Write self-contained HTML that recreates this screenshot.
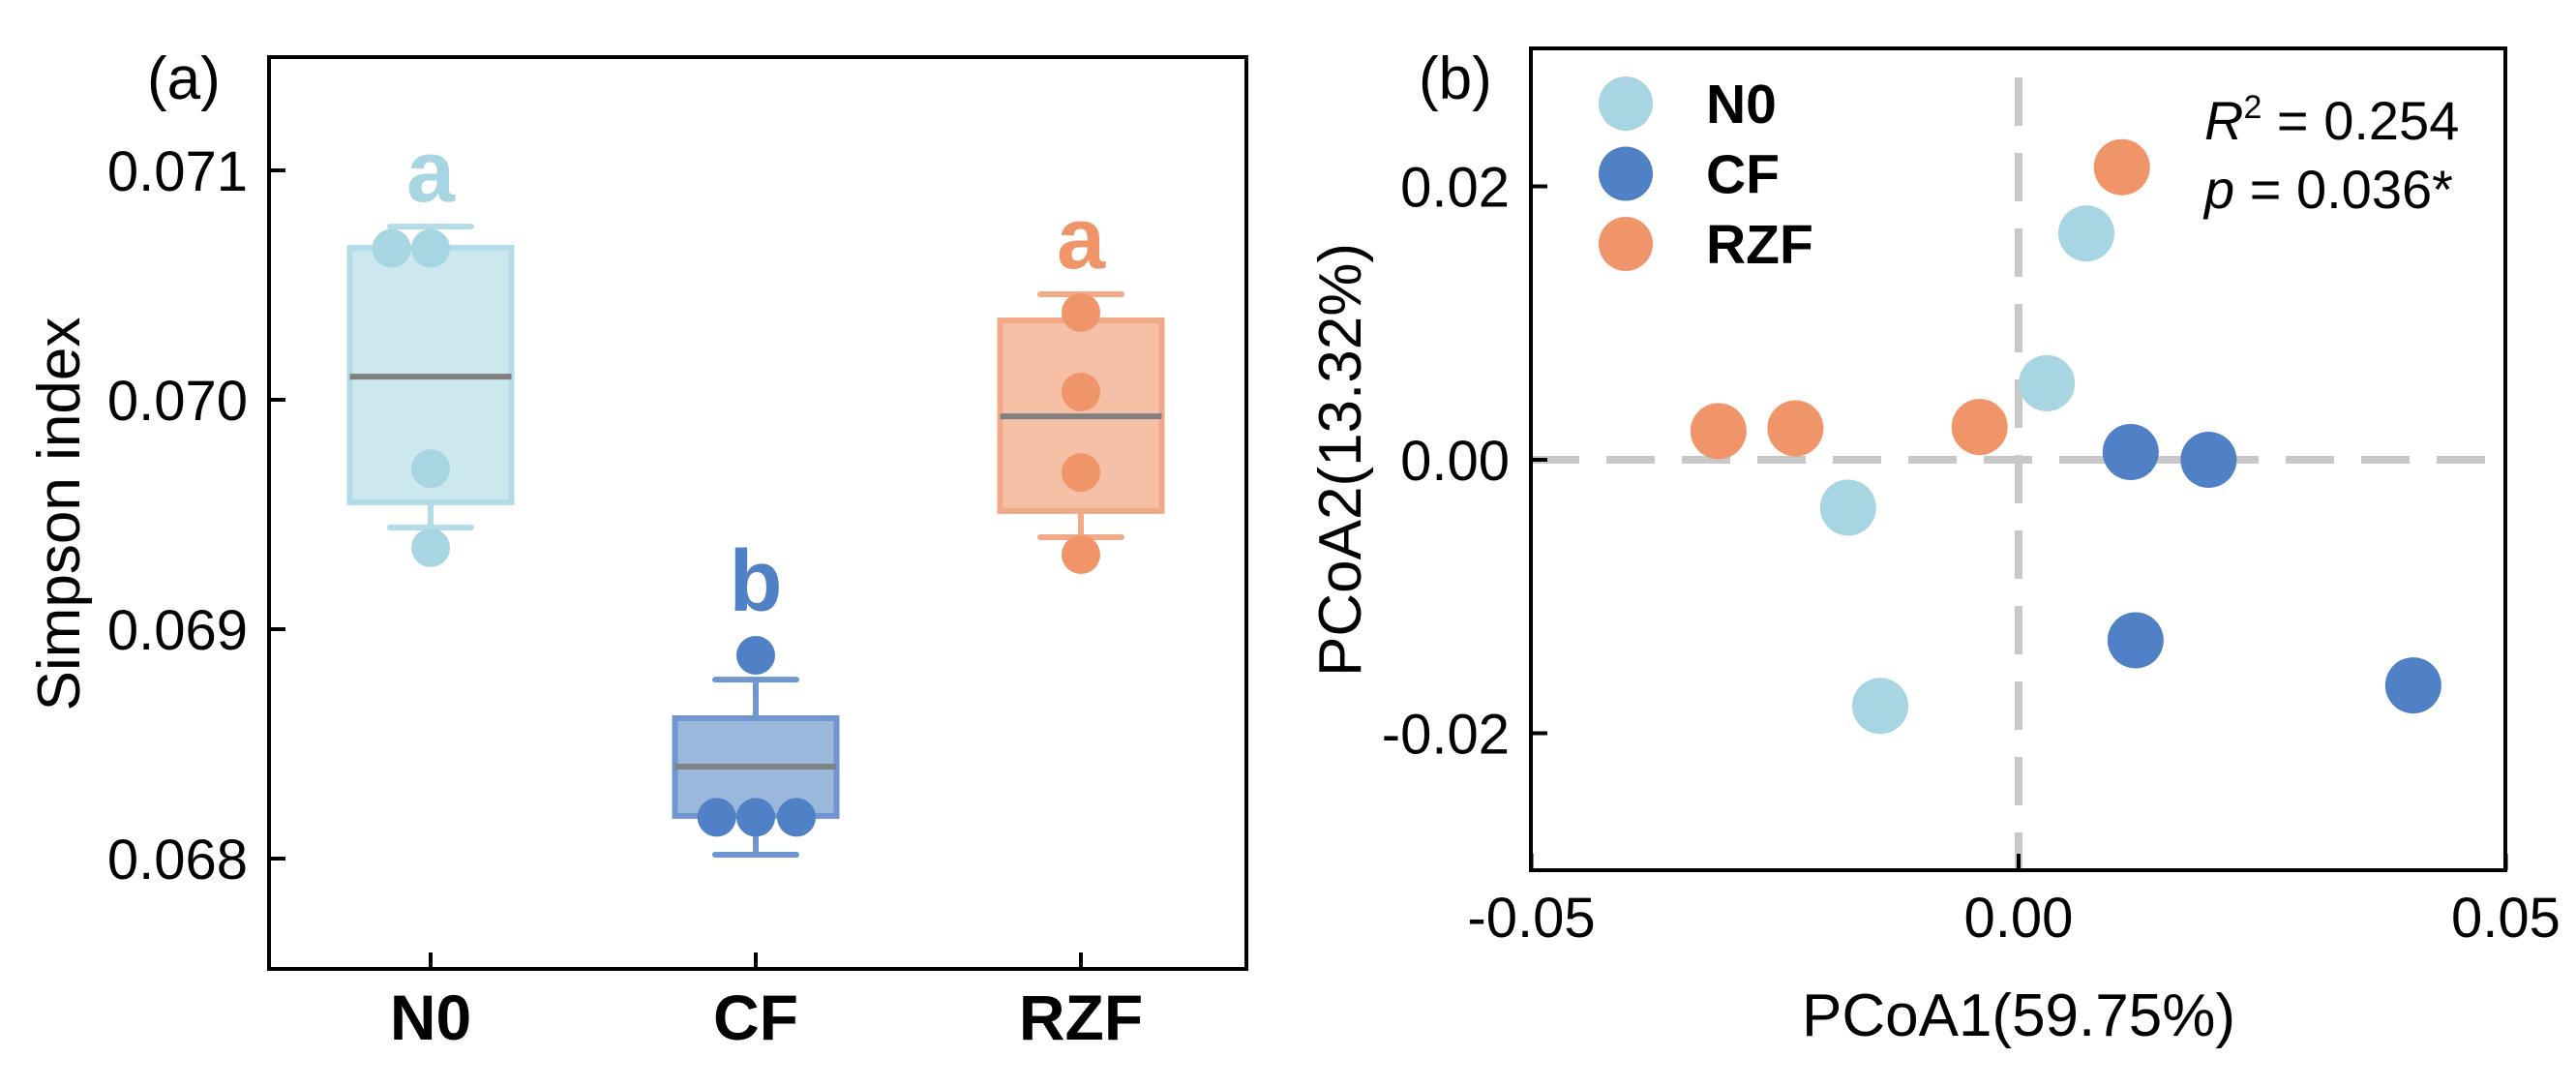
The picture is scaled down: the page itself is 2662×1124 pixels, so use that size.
<!DOCTYPE html>
<html><head><meta charset="utf-8"><style>
html,body{margin:0;padding:0;background:#fff}
svg{display:block}
text{font-family:"Liberation Sans",Arial,sans-serif}
</style></head><body>
<svg id="chart" width="2662" height="1124" viewBox="0 0 2662 1124" xmlns="http://www.w3.org/2000/svg">
<g id="pa"></g>
<g id="pb"></g>
</svg>
<script>
// Panel A data
const groups = ["N0","CF","RZF"];
const boxQ1 = [0.069553,0.068186,0.069515];
const boxQ3 = [0.070662,0.068612,0.070346];
const boxMedian = [0.070101,0.068401,0.069928];
const whiskerLow = [0.069443,0.068017,0.069401];
const whiskerHigh = [0.070755,0.068780,0.070460];
const pointsN0 = [0.07066,0.07066,0.06970,0.069355];
const pointsCF = [0.068886,0.06818,0.06818,0.06818];
const pointsRZF = [0.07038,0.070034,0.069683,0.069325];
const jitterN0 = [-0.12,0,0,0];
const jitterCF = [0,-0.12,0,0.125];
const jitterRZF = [0,0,0,0];
const sigLetters = ["a","b","a"];
const yTicksA = [0.068,0.069,0.070,0.071];
const yTickLabelsA = ["0.068","0.069","0.070","0.071"];
// Panel B data
const n0X = [0.00695,0.0029,-0.0175,-0.0142];
const n0Y = [0.01655,0.0056,-0.0035,-0.018];
const cfX = [0.0115,0.0195,0.012,0.0405];
const cfY = [0.00057,0.0,-0.0132,-0.0165];
const rzfX = [0.0106,-0.0308,-0.0229,-0.004];
const rzfY = [0.0214,0.0021,0.0023,0.0024];
const xTicksB = [-0.05,0,0.05];
const xTickLabelsB = ["-0.05","0.00","0.05"];
const yTicksB = [-0.02,0,0.02];
const yTickLabelsB = ["-0.02","0.00","0.02"];

const NS="http://www.w3.org/2000/svg";
function mk(parent,tag,attrs,txt){const e=document.createElementNS(NS,tag);for(const k in attrs)e.setAttribute(k,attrs[k]);if(txt!==undefined)e.textContent=txt;parent.appendChild(e);return e;}

const colPt=["#A8D5E2","#5080C5","#F0956A"];
const colFill=["#CDE7EE","#9AB7DC","#F5C0A5"];
const colEdge=["#B3DCE6","#6F96D0","#F2A987"];

// ---- Panel A ----
const pa=document.getElementById('pa');
const A={l:278,r:1288,t:59,b:1001};
const yA=v=>413-(v-0.070)*237000;
const xA=i=>445+i*336;
const bw=167;
const ptsAll=[pointsN0,pointsCF,pointsRZF], jitAll=[jitterN0,jitterCF,jitterRZF];
groups.forEach((g,i)=>{
  const cx=xA(i);
  let e;
  e=mk(pa,'line',{x1:cx,x2:cx,y1:yA(whiskerHigh[i]),y2:yA(boxQ3[i]),stroke:colEdge[i],'stroke-width':6});
  
  e=mk(pa,'line',{x1:cx,x2:cx,y1:yA(boxQ1[i]),y2:yA(whiskerLow[i]),stroke:colEdge[i],'stroke-width':6});
  
  e=mk(pa,'line',{x1:cx-42,x2:cx+42,y1:yA(whiskerHigh[i]),y2:yA(whiskerHigh[i]),stroke:colEdge[i],'stroke-width':6,'stroke-linecap':'round'});
  
  e=mk(pa,'line',{x1:cx-42,x2:cx+42,y1:yA(whiskerLow[i]),y2:yA(whiskerLow[i]),stroke:colEdge[i],'stroke-width':6,'stroke-linecap':'round'});
  
  e=mk(pa,'rect',{x:cx-bw/2,y:yA(boxQ3[i]),width:bw,height:yA(boxQ1[i])-yA(boxQ3[i]),fill:colFill[i],stroke:colEdge[i],'stroke-width':6});
  
  ptsAll[i].forEach((v,j)=>{
    const p=mk(pa,'circle',{cx:cx+jitAll[i][j]*336,cy:yA(v),r:20,fill:colPt[i]});
    
  });
  e=mk(pa,'line',{x1:cx-bw/2,x2:cx+bw/2,y1:yA(boxMedian[i]),y2:yA(boxMedian[i]),stroke:'#808080','stroke-width':6});
  
  const topV=Math.max(whiskerHigh[i],Math.max(...ptsAll[i]));
  const topY=Math.min(yA(whiskerHigh[i]),yA(Math.max(...ptsAll[i]))-20);
  e=mk(pa,'text',{x:cx,y:topY-26,'text-anchor':'middle','font-size':90,'font-weight':'bold',fill:colPt[i]},sigLetters[i]);
  
  e=mk(pa,'line',{x1:cx,x2:cx,y1:A.b,y2:A.b-17,stroke:'#000','stroke-width':4});
  
  e=mk(pa,'text',{x:cx,y:A.b+73,'text-anchor':'middle','font-size':66,'font-weight':'bold',fill:'#000'},g);
  
});
yTicksA.forEach((v,i)=>{
  let e=mk(pa,'line',{x1:A.l,x2:A.l+17,y1:yA(v),y2:yA(v),stroke:'#000','stroke-width':4});
  
  e=mk(pa,'text',{x:A.l-22,y:yA(v)+21,'text-anchor':'end','font-size':58,fill:'#000'},yTickLabelsA[i]);
  
});
let f=mk(pa,'rect',{x:A.l,y:A.t,width:A.r-A.l,height:A.b-A.t,fill:'none',stroke:'#000','stroke-width':4});

f=mk(pa,'text',{x:0,y:0,transform:'translate(82,531) rotate(-90)','text-anchor':'middle','font-size':62,fill:'#000'},'Simpson index');

f=mk(pa,'text',{x:152,y:102,'font-size':62,fill:'#000'},'(a)');


// ---- Panel B ----
const pb=document.getElementById('pb');
const B={l:1582,r:2589,t:50,b:899};
const xB=v=>2086+v*10070;
const yB=v=>475-v*14125;
let d=mk(pb,'line',{x1:B.l,x2:B.r,y1:yB(0),y2:yB(0),stroke:'#C8C8C8','stroke-width':8,'stroke-dasharray':'50,28'});

d=mk(pb,'line',{x1:xB(0),x2:xB(0),y1:B.t+30,y2:B.b,stroke:'#C8C8C8','stroke-width':8,'stroke-dasharray':'50,28'});

const ser=[[n0X,n0Y,'N0'],[cfX,cfY,'CF'],[rzfX,rzfY,'RZF']];
ser.forEach((s,i)=>{
  s[0].forEach((xv,j)=>{
    const c=mk(pb,'circle',{cx:xB(xv),cy:yB(s[1][j]),r:29,fill:colPt[i]});
    
  });
  const lm=mk(pb,'circle',{cx:1680,cy:107+i*72.5,r:28,fill:colPt[i]});
  
  const lt=mk(pb,'text',{x:1763,y:107+i*72.5+20,'font-size':57,'font-weight':'bold',fill:'#000'},s[2]);
  
});
xTicksB.forEach((v,i)=>{
  let e=mk(pb,'line',{x1:xB(v),x2:xB(v),y1:B.b,y2:B.b-17,stroke:'#000','stroke-width':4});
  
  e=mk(pb,'text',{x:xB(v),y:968,'text-anchor':'middle','font-size':58,fill:'#000'},xTickLabelsB[i]);
  
});
yTicksB.forEach((v,i)=>{
  let e=mk(pb,'line',{x1:B.l,x2:B.l+17,y1:yB(v),y2:yB(v),stroke:'#000','stroke-width':4});
  
  e=mk(pb,'text',{x:1560,y:yB(v)+21,'text-anchor':'end','font-size':58,fill:'#000'},yTickLabelsB[i]);
  
});
f=mk(pb,'rect',{x:B.l,y:B.t,width:B.r-B.l,height:B.b-B.t,fill:'none',stroke:'#000','stroke-width':4});

f=mk(pb,'text',{x:2086,y:1070,'text-anchor':'middle','font-size':62,fill:'#000'},'PCoA1(59.75%)');

f=mk(pb,'text',{x:0,y:0,transform:'translate(1406,475) rotate(-90)','text-anchor':'middle','font-size':62,fill:'#000'},'PCoA2(13.32%)');

f=mk(pb,'text',{x:1466,y:102,'font-size':62,fill:'#000'},'(b)');

f=mk(pb,'text',{x:2278,y:144,'font-size':56,fill:'#000'});
f.innerHTML='<tspan font-style="italic">R</tspan><tspan font-size="34" dy="-22">2</tspan><tspan dy="22"> = 0.254</tspan>';

f=mk(pb,'text',{x:2278,y:215,'font-size':56,fill:'#000'});
f.innerHTML='<tspan font-style="italic">p</tspan> = 0.036*';

</script>
</body></html>
